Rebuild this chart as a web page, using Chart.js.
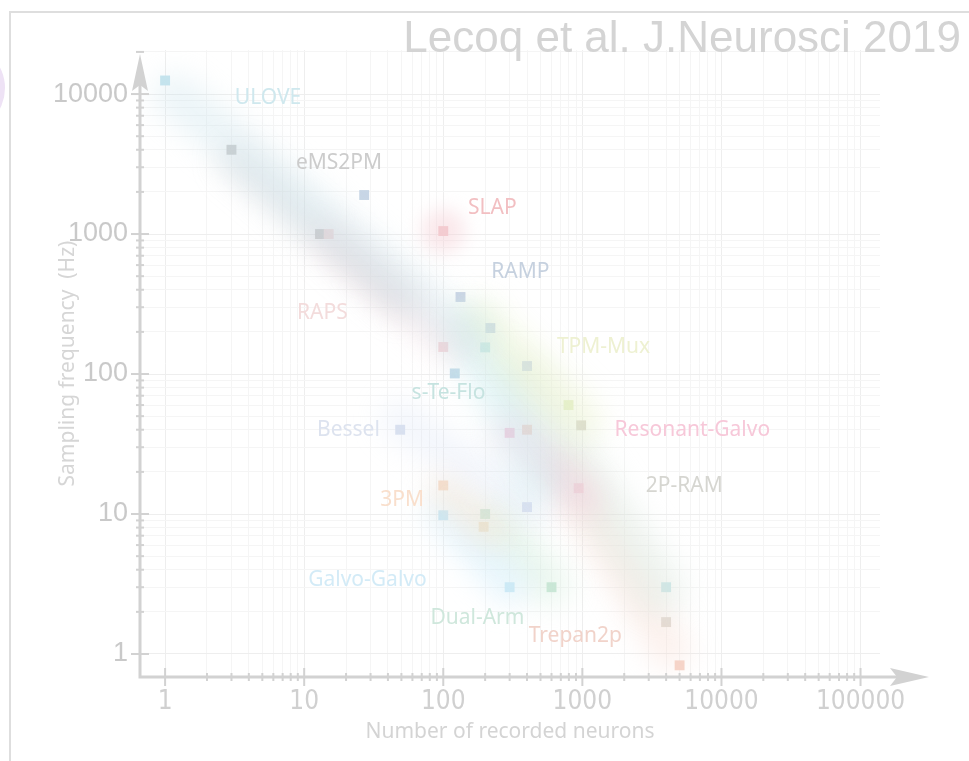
<!DOCTYPE html>
<html lang="en">
<head>
  <meta charset="UTF-8" />
  <title>Sampling frequency vs recorded neurons</title>
  <script src="https://cdn.jsdelivr.net/npm/chart.js"></script>
  <style>
    body { margin: 0; background: #fff; }
    canvas { display: block; }
  </style>
</head>
<body>

  <canvas id="neuronChart" width="969" height="761"></canvas>

  <script>
    // techniques: number of recorded neurons vs sampling frequency (Hz)
    const pointNeurons = [1, 3, 27, 13, 15, 100, 133, 218, 100, 200, 121, 400, 795, 980,
                          49, 300, 400, 940, 100, 400, 100, 200, 195, 300, 600, 4000, 4000, 5000];
    const pointFreq = [12500, 4000, 1900, 1000, 1000, 1050, 355, 213, 156, 155, 101, 114, 60, 43,
                       40, 38, 40, 15.3, 16, 11.2, 9.8, 10, 8.1, 3, 3, 3, 1.69, 0.83];
    const pointColors = ['#c4e4ee', '#cccccc', '#c8d6e6', '#cbcbcb', '#f6dede', '#f2c6ca', '#c9d3e6',
                         '#c6d2ea', '#f4d6da', '#c2e6ea', '#c2dcea', '#cdd6ee', '#e6f0c8', '#d9d5cd',
                         '#d9e0ee', '#f7c6da', '#f5d0c4', '#f8d2de', '#fadcc6', '#dde0f2', '#c8e6f4',
                         '#cce6d6', '#f7e2ca', '#cfeaf6', '#c8e5d5', '#cbe8ec', '#e0dcd6', '#f6d4c8'];

    // technique names and where they sit (data coords)
    const labelText = ['ULOVE', 'eMS2PM', 'SLAP', 'RAMP', 'RAPS', 'TPM-Mux', 's-Te-Flo', 'Bessel',
                       'Resonant-Galvo', '2P-RAM', '3PM', 'Galvo-Galvo', 'Dual-Arm', 'Trepan2p'];
    const labelX = [5.5, 17.8, 225, 358, 13.5, 1420, 109, 20.8, 6170, 5400, 50.6, 28.5, 176, 890];
    const labelY = [9400, 3200, 1540, 537, 273, 156, 73, 40, 40, 15.8, 12.6, 3.38, 1.81, 1.34];
    const labelColors = ['#cfe8ee', '#cccccc', '#f2bfc2', '#c6d1df', '#f3dcdc', '#eef1d2', '#c6e3e0',
                         '#dde3ef', '#f7c8d9', '#d6d6d1', '#f9dfcc', '#d3ebf7', '#cfe7dc', '#f1d3ca'];

    // blurry trend bands, start -> end
    const bandX1 = [1.18, 3.19, 15.4, 185, 156, 49, 303, 358, 700, 103, 103, 237];
    const bandY1 = [9800, 3390, 910, 243, 206, 47, 40, 90, 20.6, 14.8, 10.7, 9.1];
    const bandX2 = [156, 49, 112, 970, 500, 424, 1050, 3660, 4300, 218, 303, 590];
    const bandY2 = [175, 338, 161, 47, 17.5, 10.7, 12.6, 2.86, 1.07, 7.7, 3.1, 3.1];
    const bandColors = ['rgba(200,226,236,0.35)', 'rgba(190,192,198,0.32)', 'rgba(246,208,214,0.32)',
                        'rgba(236,242,200,0.4)', 'rgba(198,234,240,0.4)', 'rgba(214,226,246,0.3)',
                        'rgba(246,196,218,0.4)', 'rgba(214,230,220,0.4)', 'rgba(246,214,204,0.35)',
                        'rgba(250,224,200,0.4)', 'rgba(202,234,250,0.42)', 'rgba(208,236,218,0.42)'];
    const bandWidths = [44, 32, 34, 44, 48, 38, 32, 50, 40, 34, 40, 40];

    const haloX = [100];
    const haloY = [1050];

    const xTicks = [];
    for (let d = 1; d <= 10000; d *= 10) {
      for (let k = 1; k < 10; k++) xTicks.push(k * d);
    }
    xTicks.push(100000);
    const yTickList = [];
    for (let d = 1; d <= 1000; d *= 10) {
      for (let k = 1; k < 10; k++) yTickList.push(k * d);
    }
    yTickList.push(10000, 20000);

    const isDecade = v => Math.abs(Math.log10(v) - Math.round(Math.log10(v))) < 1e-9;
    const gridColor = c => isDecade(c.tick.value) ? '#eeeeee' : '#f5f5f5';

    const datasets = [];
    bandX1.forEach((x, i) => {
      datasets.push({
        type: 'line',
        data: [{ x: x, y: bandY1[i] }, { x: bandX2[i], y: bandY2[i] }],
        borderColor: bandColors[i],
        borderWidth: bandWidths[i],
        borderCapStyle: 'round',
        pointRadius: 0,
        fill: false,
        blur: 14
      });
    });
    datasets.push({
      type: 'scatter',
      data: haloX.map((x, i) => ({ x: x, y: haloY[i] })),
      pointRadius: 22,
      backgroundColor: 'rgba(246,210,216,0.5)',
      borderWidth: 0,
      blur: 9
    });
    datasets.push({
      type: 'scatter',
      data: pointNeurons.map((x, i) => ({ x: x, y: pointFreq[i] })),
      pointStyle: 'rect',
      pointRadius: 7,
      backgroundColor: pointColors,
      borderWidth: 0
    });

    // blur filter for the soft bands
    const blurPlugin = {
      id: 'blurBands',
      beforeDatasetDraw(chart, args) {
        const b = chart.data.datasets[args.index].blur;
        if (b) { chart.ctx.save(); chart.ctx.filter = 'blur(' + b + 'px)'; }
      },
      afterDatasetDraw(chart, args) {
        if (chart.data.datasets[args.index].blur) chart.ctx.restore();
      }
    };

    // frame + hand drawn axes with arrows and cross ticks
    const framePlugin = {
      id: 'frame',
      beforeDraw(chart) {
        const ctx = chart.ctx;
        ctx.save();
        ctx.fillStyle = '#fff';
        ctx.fillRect(0, 0, chart.width, chart.height);
        ctx.fillStyle = '#eee2f5';
        ctx.beginPath();
        ctx.arc(-40, 88, 45, 0, Math.PI * 2);
        ctx.fill();
        ctx.strokeStyle = '#dedede';
        ctx.lineWidth = 2;
        ctx.beginPath();
        ctx.moveTo(10, chart.height);
        ctx.lineTo(10, 12);
        ctx.lineTo(chart.width, 12);
        ctx.stroke();
        ctx.restore();
      },
      afterDatasetsDraw(chart) {
        const ctx = chart.ctx;
        const xs = chart.scales.x, ys = chart.scales.y;
        const a = chart.chartArea;
        ctx.save();
        ctx.strokeStyle = '#d2d2d2';
        ctx.fillStyle = '#d2d2d2';
        ctx.lineWidth = 3;
        ctx.beginPath();
        ctx.moveTo(a.left, 70);
        ctx.lineTo(a.left, a.bottom);
        ctx.lineTo(900, a.bottom);
        ctx.stroke();
        // arrow heads
        ctx.beginPath();
        ctx.moveTo(a.left, 54);
        ctx.lineTo(a.left + 8, 91);
        ctx.lineTo(a.left, 85);
        ctx.lineTo(a.left - 8, 91);
        ctx.closePath();
        ctx.fill();
        ctx.beginPath();
        ctx.moveTo(929, a.bottom);
        ctx.lineTo(890, a.bottom - 9);
        ctx.lineTo(897, a.bottom);
        ctx.lineTo(890, a.bottom + 9);
        ctx.closePath();
        ctx.fill();
        ctx.lineWidth = 2;
        xTicks.forEach(v => {
          const px = xs.getPixelForValue(v);
          const h = isDecade(v) ? 9 : 4;
          ctx.beginPath();
          ctx.moveTo(px, a.bottom - h);
          ctx.lineTo(px, a.bottom + h);
          ctx.stroke();
        });
        yTickList.forEach(v => {
          const py = ys.getPixelForValue(v);
          const h = isDecade(v) ? 9 : 4;
          ctx.beginPath();
          ctx.moveTo(a.left - h, py);
          ctx.lineTo(a.left + h, py);
          ctx.stroke();
        });
        // technique names
        ctx.font = '21px "Noto Sans", sans-serif';
        ctx.textAlign = 'center';
        ctx.textBaseline = 'middle';
        labelText.forEach((t, i) => {
          ctx.fillStyle = labelColors[i];
          ctx.fillText(t, xs.getPixelForValue(labelX[i]), ys.getPixelForValue(labelY[i]));
        });
        ctx.restore();
      }
    };

    new Chart(document.getElementById('neuronChart'), {
      type: 'scatter',
      data: { datasets: datasets },
      options: {
        responsive: false,
        animation: false,
        layout: { padding: { top: 0, right: 8, bottom: 0, left: 0 } },
        plugins: {
          legend: { display: false },
          tooltip: { enabled: false },
          title: {
            display: true,
            text: 'Lecoq et al. J.Neurosci 2019',
            align: 'end',
            color: '#d4d4d4',
            font: { family: '"Liberation Sans", sans-serif', size: 44, weight: 'normal', lineHeight: 0.48 },
            padding: { top: 29, bottom: 0 }
          }
        },
        scales: {
          x: {
            type: 'logarithmic',
            position: 'bottom',
            min: 0.66,
            max: 138000,
            afterBuildTicks: s => { s.ticks = xTicks.map(v => ({ value: v })); },
            afterFit: s => { s.height = 84; },
            grid: { color: gridColor, lineWidth: 1, drawTicks: false },
            border: { display: false },
            ticks: {
              autoSkip: false,
              maxRotation: 0,
              padding: 10,
              color: '#d0d0d0',
              font: { family: '"DejaVu Sans Condensed", "Liberation Sans Narrow", "Noto Sans", sans-serif', size: 26 },
              callback: v => isDecade(v) ? String(Math.round(v)) : ''
            },
            title: {
              display: true,
              text: 'Number of recorded neurons',
              color: '#d4d4d4',
              font: { family: '"Noto Sans", sans-serif', size: 21 },
              padding: { top: 0, bottom: 16 }
            }
          },
          y: {
            type: 'logarithmic',
            position: 'left',
            min: 0.685,
            max: 20600,
            afterBuildTicks: s => { s.ticks = yTickList.map(v => ({ value: v })); },
            afterFit: s => { s.width = 140; },
            grid: { color: gridColor, lineWidth: 1, drawTicks: false },
            border: { display: false },
            ticks: {
              autoSkip: false,
              padding: 12,
              color: '#c9c9c9',
              font: { family: '"Liberation Sans", sans-serif', size: 27 },
              callback: v => isDecade(v) ? String(Math.round(v)) : ''
            },
            title: {
              display: true,
              text: 'Sampling frequency  (Hz)',
              color: '#d6d6d6',
              font: { family: '"Noto Sans", sans-serif', size: 21 },
              padding: { top: 55, bottom: 0 }
            }
          },
          spacer: {
            type: 'linear',
            position: 'right',
            display: true,
            grid: { display: false },
            border: { display: false },
            ticks: { display: false },
            afterFit: s => { s.width = 81; }
          }
        }
      },
      plugins: [blurPlugin, framePlugin]
    });
  </script>

</body>
</html>
